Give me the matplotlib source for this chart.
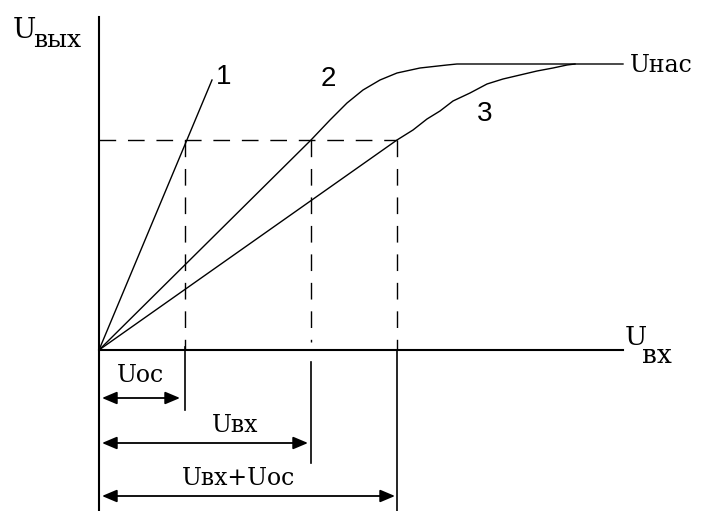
import matplotlib.pyplot as plt

# данные схемы (единицы - условные, начало координат в точке 0,0)
u_oc = 86          # Uос
u_in = 212         # Uвх
u_sum = 298        # Uвх + Uос
level = 210        # уровень выходного напряжения (пунктир)
u_sat = 286        # Uнас

line1_x = [0, 113]
line1_y = [0, 270]

curve2_x = [0, 212, 231, 248, 264, 281, 298, 321, 348, 358, 524]
curve2_y = [0, 210, 230, 247, 260, 270, 277, 282, 285, 286, 286]

curve3_x = [0, 298, 314, 328, 341, 354, 371, 388, 404, 421, 438, 454, 468, 476]
curve3_y = [0, 210, 220, 231, 239, 249, 257, 266, 271, 275, 279, 282, 285, 286]

curve_labels = ['1', '2', '3']
label_pos = [(125, 273), (229, 271), (386, 236)]

serif = 'DejaVu Serif'
sans = 'Liberation Sans'
dash = (12, 8.5)

fig = plt.figure(figsize=(7.01, 5.11), dpi=100)
ax = fig.add_axes([0, 0, 1, 1])
ax.set_xlim(-99, 602)
ax.set_ylim(-161, 350)
ax.axis('off')

# оси
ax.plot([0, 0], [333, -161], color='black', lw=1.5)
ax.plot([0, 524], [0, 0], color='black', lw=1.5)

# характеристики
ax.plot(line1_x, line1_y, color='black', lw=1.0)
ax.plot(curve2_x, curve2_y, color='black', lw=1.0)
ax.plot(curve3_x, curve3_y, color='black', lw=1.0)

# пунктирные линии
ax.plot([0, u_sum], [level, level], color='black', lw=1.0, dashes=dash)
ax.plot([u_oc, u_oc], [level, 0], color='black', lw=1.0, dashes=dash)
ax.plot([u_in, u_in], [level, 8], color='black', lw=1.0, dashes=dash)
ax.plot([u_sum, u_sum], [level, 0], color='black', lw=1.0, dashes=dash)

# выносные линии под осью
ax.plot([u_oc, u_oc], [3, -60], color='black', lw=1.2)
ax.plot([u_in, u_in], [-12, -113], color='black', lw=1.2)
ax.plot([u_sum, u_sum], [0, -161], color='black', lw=1.2)

# размерные стрелки
arrow = dict(arrowstyle='<|-|>,head_length=0.9,head_width=0.38',
             color='black', lw=1.3, mutation_scale=10, shrinkA=0, shrinkB=0)
for x_end, y_a in [(u_oc - 5, -48), (u_in - 3, -93), (u_sum - 2, -146)]:
    ax.annotate('', xy=(x_end, y_a), xytext=(3, y_a), arrowprops=arrow)

# подписи
ax.text(-86, 312, 'U', family=serif, fontsize=20, va='baseline')
ax.text(-66, 303, 'вых', family=serif, fontsize=18, va='baseline')
ax.text(526, 5, 'U', family=serif, fontsize=19, va='baseline')
ax.text(543, -13, 'вх', family=serif, fontsize=19, va='baseline')
ax.text(531, 278, 'Uнас', family=serif, fontsize=17, va='baseline')

ax.text(18, -32, 'Uос', family=serif, fontsize=17, va='baseline')
ax.text(113, -82, 'Uвх', family=serif, fontsize=17, va='baseline')
ax.text(83, -135, 'Uвх+Uос', family=serif, fontsize=17, va='baseline')

for txt, (x, y) in zip(curve_labels, label_pos):
    ax.text(x, y, txt, family=sans, fontsize=20, ha='center', va='center')

fig.savefig('out.png', dpi=100)
